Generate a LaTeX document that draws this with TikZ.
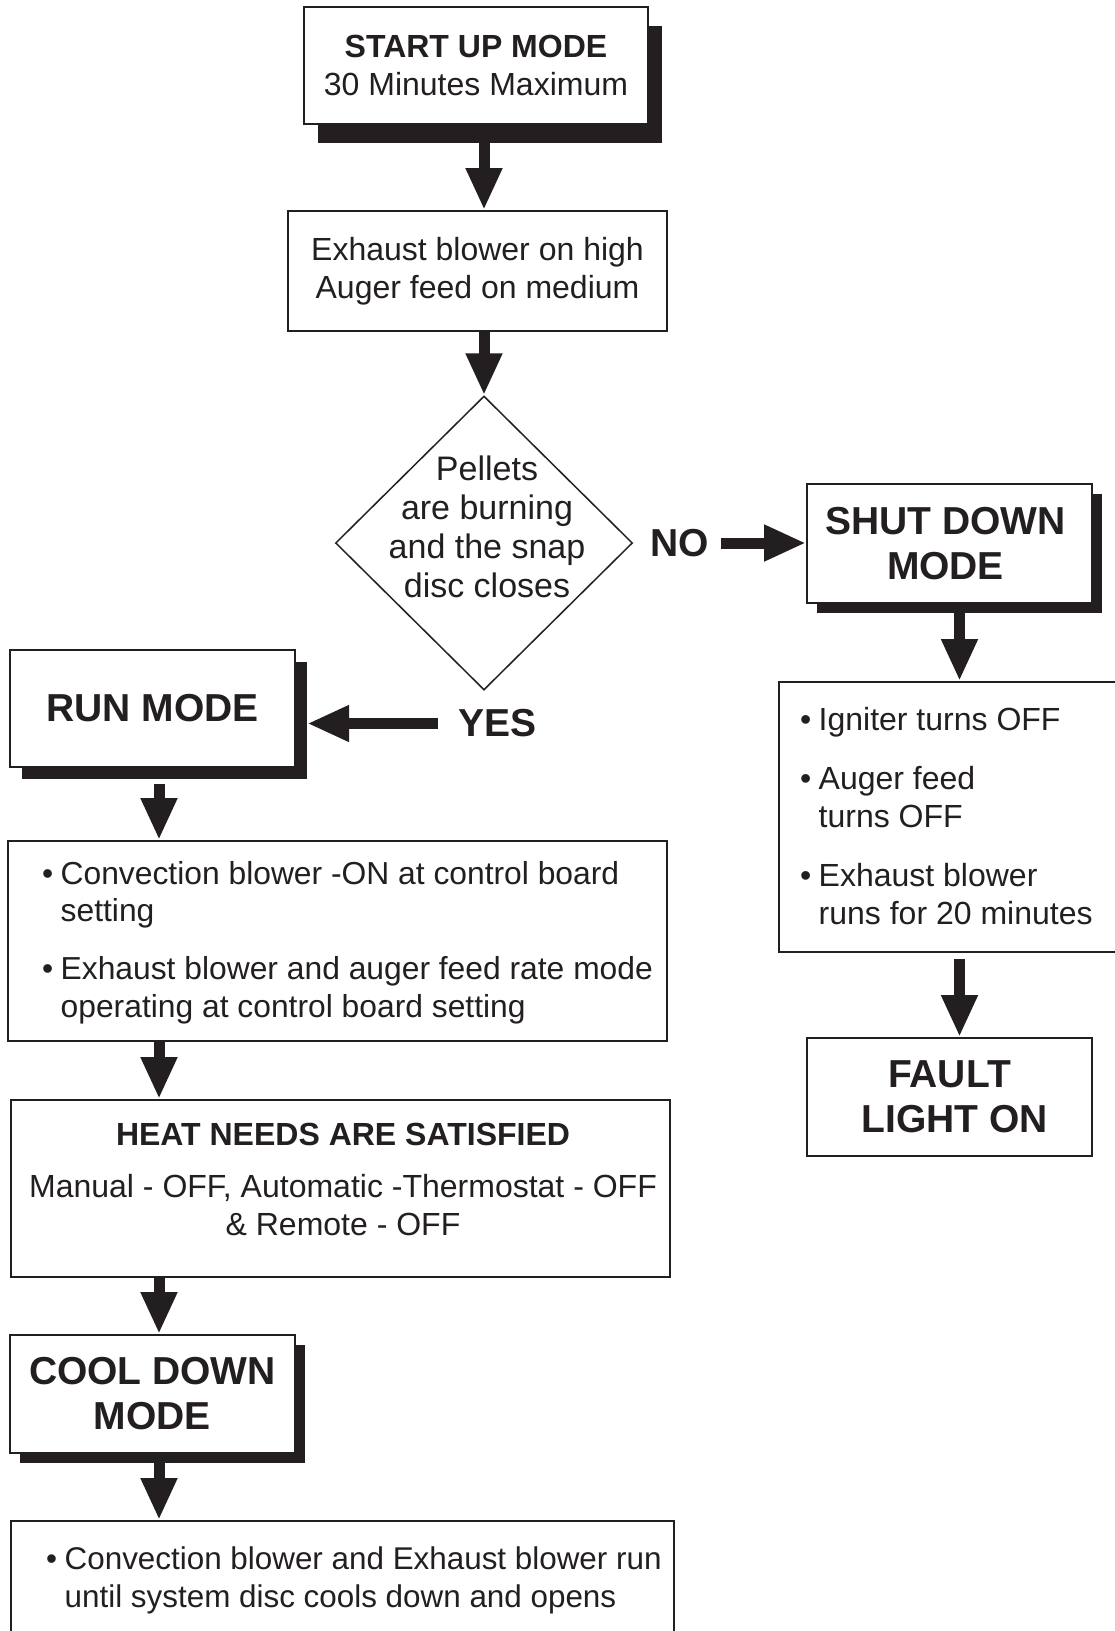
\documentclass[tikz,border=0pt]{standalone}
\usepackage{fontspec}
\setmainfont{Liberation Sans}
\usetikzlibrary{arrows.meta,shapes.geometric,calc}
\definecolor{ink}{HTML}{231F20}
\newcommand\mybul{\makebox[18.5pt][l]{•}}
\newcommand\myind{\hspace*{18.5pt}}
\begin{document}
\begin{tikzpicture}[x=1pt,y=-1pt,
  box/.style={draw=ink, line width=2pt, fill=white, rectangle, inner sep=0pt, text=ink, align=center, font=\fontsize{32}{37.5}\selectfont},
  modebox/.style={box, font=\fontsize{39}{45}\selectfont\bfseries},
  shade/.style={fill=ink, rectangle, inner sep=0pt},
  txt/.style={text=ink, inner sep=0pt, font=\fontsize{32}{37.5}\selectfont},
  big/.style={text=ink, inner sep=0pt, font=\fontsize{39}{45}\selectfont\bfseries},
  flow/.style={draw=ink, line width=11pt, -{Triangle[length=42pt,width=34pt]}}]
\clip (0,0) rectangle (1115,1631);
\useasboundingbox (0,0) rectangle (1115,1631);
\fill[white] (0,0) rectangle (1115,1631);
\coordinate (colL) at (159,0);
\coordinate (colM) at (484,0);
\coordinate (colR) at (959.5,0);
% start
\node[shade, minimum width=344pt, minimum height=117pt] (startsh) at (490,84.5) {};
\node[box, minimum width=344pt, minimum height=117pt] (start) at (476,65.5) {{\bfseries START UP MODE}\\30 Minutes Maximum};
\node[box, minimum width=379pt, minimum height=120pt] (act) at (477.5,271) {Exhaust blower on high\\Auger feed on medium};
% decision
\node[diamond, draw=ink, line width=1.5pt, minimum width=297pt, minimum height=294pt, inner sep=0pt] (dec) at (484,543) {};
\node[txt, align=center, anchor=base, font=\fontsize{34}{38.8}\selectfont] (dectxt) at (487,597) {Pellets\\are burning\\and the snap\\disc closes};
\node[big] (no) at (680,543) {NO};
\node[big] (yes) at (497.5,723.5) {YES};
% right column
\node[shade, minimum width=285pt, minimum height=119pt] (shutsh) at (959.5,553.5) {};
\node[modebox, minimum width=285pt, minimum height=119pt] (shut) at (949.5,543.5) {SHUT DOWN\hspace*{8pt}\\MODE\hspace*{8pt}};
\node[box, minimum width=346pt, minimum height=270pt] (ign) at (952,817) {};
\node[txt, align=left, anchor=base west] (igntxt) at (800,924) {\mybul Igniter turns OFF\\[22pt]\mybul Auger feed\\\myind turns OFF\\[22pt]\mybul Exhaust blower\\\myind runs for 20 minutes};
\node[modebox, minimum width=285pt, minimum height=118pt] (fault) at (949.5,1097) {FAULT\\\hspace*{10pt}LIGHT ON};
% left column
\node[shade, minimum width=285pt, minimum height=117pt] (runsh) at (164.5,720.5) {};
\node[modebox, minimum width=285pt, minimum height=117pt] (run) at (152.5,708.5) {RUN MODE};
\node[box, minimum width=659pt, minimum height=200pt] (runb) at (337.5,941) {};
\node[txt, align=left, anchor=base west, font=\fontsize{31.8}{37.5}\selectfont] (runtxt) at (42,1017) {\mybul Convection blower -ON at control board\\\myind setting\\[20.5pt]\mybul Exhaust blower and auger feed rate mode\\\myind operating at control board setting};
\node[box, minimum width=659pt, minimum height=177pt] (heat) at (340.5,1188.5) {};
\node[txt, align=center, anchor=base] (heattxt) at (343,1235) {{\bfseries HEAT NEEDS ARE SATISFIED}\\[14.5pt]Manual - OFF, Automatic -Thermostat - OFF\\\& Remote - OFF};
\node[shade, minimum width=285pt, minimum height=118pt] (coolsh) at (162.5,1404) {};
\node[modebox, minimum width=285pt, minimum height=118pt] (cool) at (152.5,1394) {COOL DOWN\\MODE};
\node[box, minimum width=663pt, minimum height=129pt] (cdb) at (342.5,1585.5) {};
\node[txt, align=left, anchor=base west, font=\fontsize{31.4}{37.5}\selectfont] (cdbtxt) at (46,1607) {\mybul Convection blower and Exhaust blower run\\\myind until system disc cools down and opens};
% connectors
\draw[flow] (startsh.south -| colM) -- (act.north -| colM);
\draw[flow] (act.south -| colM) -- (dec.north);
\draw[flow] ([xshift=12pt]no.east) -- (no.east -| shut.west);
\draw[flow] ([xshift=-20pt]yes.west) -- (yes.west -| runsh.east);
\draw[flow] (shutsh.south -| colR) -- (ign.north -| colR);
\draw[flow] ($(ign.south -| colR)+(0,6)$) -- (fault.north -| colR);
\draw[flow] ($(runsh.south -| colL)+(0,5)$) -- (runb.north -| colL);
\draw[flow] (runb.south -| colL) -- (heat.north -| colL);
\draw[flow] (heat.south -| colL) -- (cool.north -| colL);
\draw[flow] (coolsh.south -| colL) -- (cdb.north -| colL);
\end{tikzpicture}
\end{document}
